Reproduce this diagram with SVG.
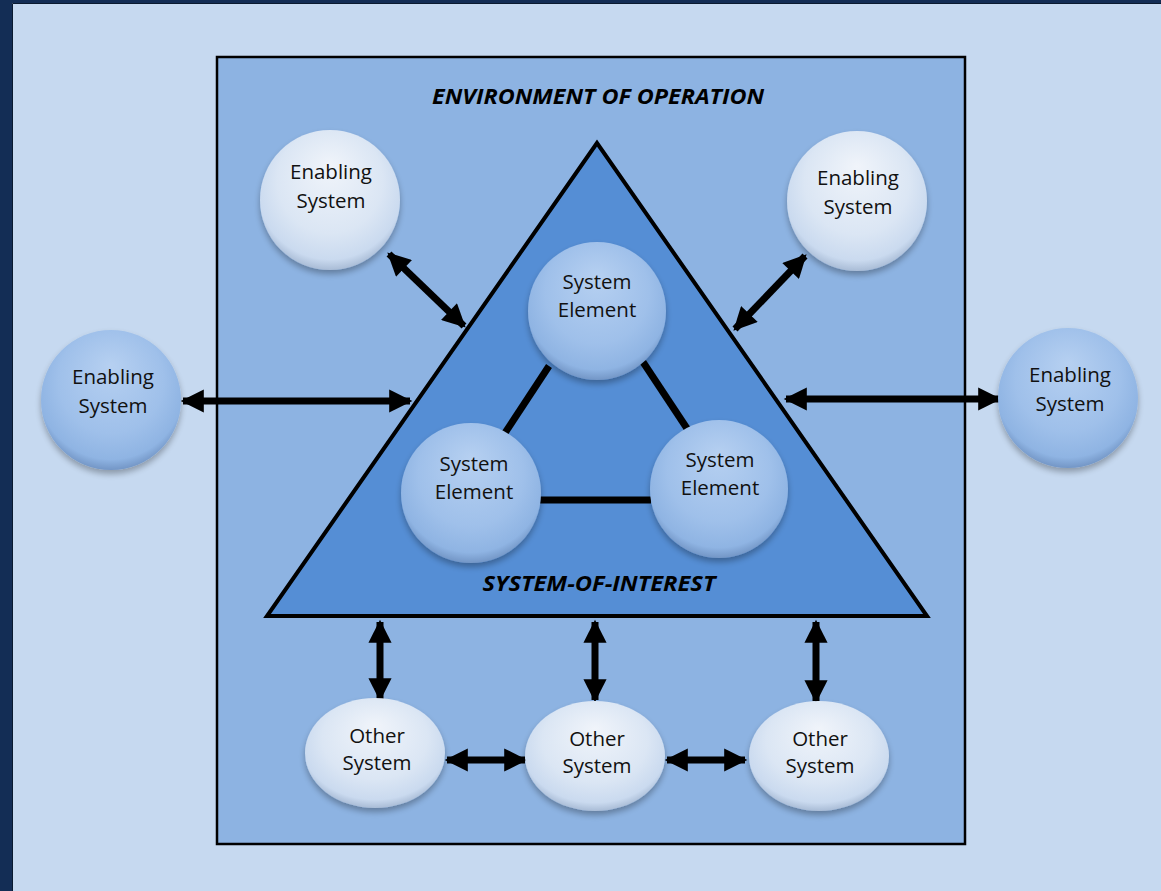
<svg xmlns="http://www.w3.org/2000/svg" width="1161" height="891" viewBox="0 0 1161 891">
<defs>
<radialGradient id="gLight" cx="0.5" cy="0.42" r="0.58" fx="0.5" fy="0.25">
<stop offset="0" stop-color="#f0f4fa"/>
<stop offset="0.65" stop-color="#dbe6f4"/>
<stop offset="0.9" stop-color="#cadaef"/>
<stop offset="1" stop-color="#a9bcd6"/>
</radialGradient>
<radialGradient id="gBlue" cx="0.5" cy="0.42" r="0.58" fx="0.5" fy="0.25">
<stop offset="0" stop-color="#b6d0f1"/>
<stop offset="0.65" stop-color="#9fc0ea"/>
<stop offset="0.9" stop-color="#8fb4e3"/>
<stop offset="1" stop-color="#7396c6"/>
</radialGradient>
<filter id="sh" x="-20%" y="-20%" width="140%" height="150%">
<feGaussianBlur in="SourceAlpha" stdDeviation="3"/>
<feOffset dx="0" dy="4" result="o"/>
<feComponentTransfer><feFuncA type="linear" slope="0.3"/></feComponentTransfer>
<feMerge><feMergeNode/><feMergeNode in="SourceGraphic"/></feMerge>
</filter>
<marker id="ah" viewBox="0 0 10 10" refX="9" refY="5" markerWidth="3.4" markerHeight="3.3" orient="auto-start-reverse" markerUnits="strokeWidth">
<path d="M0,0 L10,5 L0,10 Z" fill="#000"/>
</marker>
</defs>
<style>
.lbl{font-family:"Open Sans","Liberation Sans",sans-serif;font-size:20.5px;fill:#111;text-anchor:middle}
.title{font-family:"Open Sans","Liberation Sans",sans-serif;font-size:21px;font-weight:bold;font-style:italic;fill:#000;text-anchor:middle}
.light{fill:url(#gLight);filter:url(#sh)}
.blue{fill:url(#gBlue);filter:url(#sh)}
.arr{stroke:#000;stroke-width:7;fill:none;marker-start:url(#ah);marker-end:url(#ah)}
.link{stroke:#000;stroke-width:7;fill:none}
</style>
<rect x="0" y="0" width="1161" height="891" fill="#c6d9f0"/>
<rect x="0" y="0" width="12" height="891" fill="#132d55"/>
<rect x="0" y="0" width="1161" height="3" fill="#132d55"/>
<path d="M12.5,891 V3.5 H1161" fill="none" stroke="#0a1a30" stroke-width="1"/>

<g id="environment">
<rect x="217" y="57" width="748" height="787" fill="#8db3e2" stroke="#000" stroke-width="2.5"/>
<text class="title" x="598" y="104" textLength="332" lengthAdjust="spacingAndGlyphs">ENVIRONMENT OF OPERATION</text>
</g>

<g id="system-of-interest">
<polygon points="597,143 267,616 927,616" fill="#558ed5" stroke="#000" stroke-width="4" stroke-linejoin="miter"/>
<text class="title" x="599" y="591" textLength="233" lengthAdjust="spacingAndGlyphs">SYSTEM-OF-INTEREST</text>
</g>

<g id="connectors">
<line class="link" x1="549" y1="366" x2="505" y2="433"/>
<line class="link" x1="643" y1="362" x2="688" y2="430"/>
<line class="link" x1="540" y1="500" x2="651" y2="500"/>
<line class="arr" x1="389" y1="254" x2="464" y2="326"/>
<line class="arr" x1="805" y1="256" x2="735" y2="329"/>
<line class="arr" x1="183" y1="401" x2="410" y2="401"/>
<line class="arr" x1="786" y1="399" x2="999" y2="399"/>
<line class="arr" x1="380" y1="622" x2="380" y2="699"/>
<line class="arr" x1="595" y1="622" x2="595" y2="700"/>
<line class="arr" x1="816" y1="622" x2="816" y2="701"/>
<line class="arr" x1="447" y1="760" x2="525" y2="760"/>
<line class="arr" x1="667" y1="760" x2="745" y2="760"/>
</g>

<g id="enabling-top-left">
<circle class="light" cx="330" cy="200" r="70"/>
<text class="lbl" x="331" y="179">Enabling</text>
<text class="lbl" x="331" y="208">System</text>
</g>
<g id="enabling-top-right">
<circle class="light" cx="857" cy="201" r="70"/>
<text class="lbl" x="858" y="185">Enabling</text>
<text class="lbl" x="858" y="214">System</text>
</g>
<g id="enabling-left">
<circle class="blue" cx="111" cy="400" r="70"/>
<text class="lbl" x="113" y="384">Enabling</text>
<text class="lbl" x="113" y="413">System</text>
</g>
<g id="enabling-right">
<circle class="blue" cx="1068" cy="398" r="70"/>
<text class="lbl" x="1070" y="382">Enabling</text>
<text class="lbl" x="1070" y="411">System</text>
</g>
<g id="element-top">
<circle class="blue" cx="597" cy="311" r="69"/>
<text class="lbl" x="597" y="289">System</text>
<text class="lbl" x="597" y="317">Element</text>
</g>
<g id="element-left">
<circle class="blue" cx="471" cy="493" r="70"/>
<text class="lbl" x="474" y="471">System</text>
<text class="lbl" x="474" y="499">Element</text>
</g>
<g id="element-right">
<circle class="blue" cx="719" cy="489" r="69"/>
<text class="lbl" x="720" y="467">System</text>
<text class="lbl" x="720" y="495">Element</text>
</g>
<g id="other-1">
<ellipse class="light" cx="375" cy="753" rx="70" ry="55"/>
<text class="lbl" x="377" y="743">Other</text>
<text class="lbl" x="377" y="770">System</text>
</g>
<g id="other-2">
<ellipse class="light" cx="595" cy="756" rx="70" ry="55"/>
<text class="lbl" x="597" y="746">Other</text>
<text class="lbl" x="597" y="773">System</text>
</g>
<g id="other-3">
<ellipse class="light" cx="819" cy="756" rx="70" ry="55"/>
<text class="lbl" x="820" y="746">Other</text>
<text class="lbl" x="820" y="773">System</text>
</g>
</svg>
